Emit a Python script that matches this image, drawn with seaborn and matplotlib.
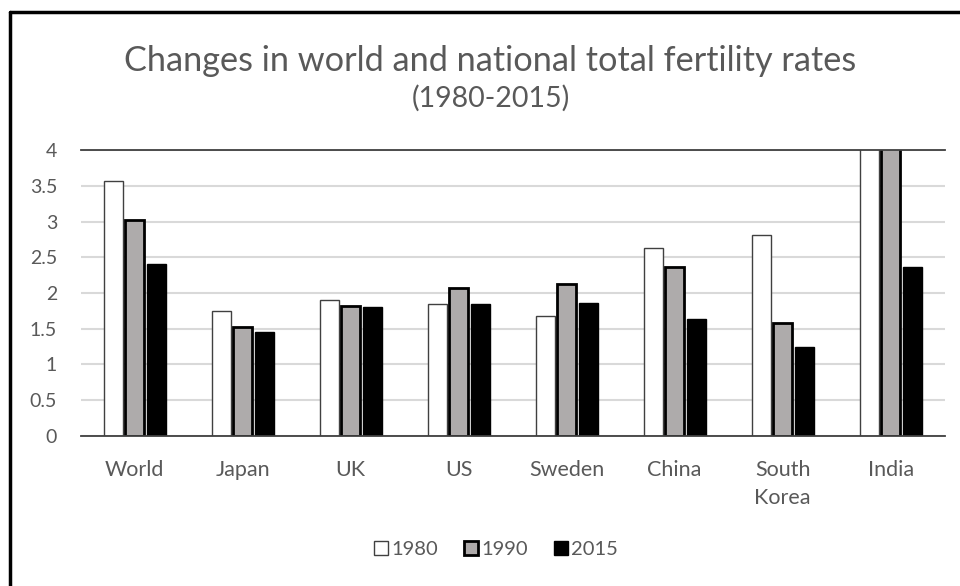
import pandas as pd
import matplotlib.pyplot as plt
import seaborn as sns
from matplotlib.lines import Line2D

# Values (India 1980/1990 run past the 4 limit)
countries = ['World', 'Japan', 'UK', 'US', 'Sweden', 'China', 'South\nKorea', 'India']
years = ['1980', '1990', '2015']
tfr_1980 = [3.57, 1.75, 1.90, 1.84, 1.68, 2.63, 2.81, 4.97]
tfr_1990 = [3.02, 1.53, 1.82, 2.07, 2.12, 2.36, 1.58, 4.05]
tfr_2015 = [2.41, 1.45, 1.80, 1.84, 1.86, 1.63, 1.25, 2.36]

bar_colors = ['#ffffff', '#aeaaaa', '#000000']
edge_colors = ['#404040', 'black', 'black']
edge_widths = [1.0, 2.0, 1.0]
text_gray = '#595959'

rows = []
for year, vals in zip(years, [tfr_1980, tfr_1990, tfr_2015]):
    for c, v in zip(countries, vals):
        rows.append({'country': c, 'year': year, 'tfr': v})
df = pd.DataFrame(rows)

sns.set_style('white')
plt.rcParams['font.family'] = ['Lato', 'DejaVu Sans']

fig = plt.figure(figsize=(9.6, 5.86), dpi=100)
ax = fig.add_axes([0.084, 0.256, 0.9, 0.488])

sns.barplot(data=df, x='country', y='tfr', hue='year', hue_order=years,
            palette=bar_colors, width=0.6, gap=0.12, edgecolor='black',
            ax=ax, legend=False)

for cont, lw, col in zip(ax.containers, edge_widths, edge_colors):
    for bar in cont:
        bar.set_linewidth(lw)
        bar.set_edgecolor(col)

ax.set_ylim(0, 4)
ax.set_xlim(-0.5, len(countries) - 0.5)
ax.set_yticks([0, 0.5, 1, 1.5, 2, 2.5, 3, 3.5, 4])
ax.set_yticklabels(['0', '0.5', '1', '1.5', '2', '2.5', '3', '3.5', '4'])
ax.yaxis.grid(True, color='#d9d9d9', linewidth=1.5)
ax.set_axisbelow(True)
ax.tick_params(axis='both', length=0, colors=text_gray)
ax.tick_params(axis='y', pad=17, labelsize=14)
ax.tick_params(axis='x', pad=17, labelsize=15.5)
for lbl in ax.get_xticklabels():
    lbl.set_linespacing(1.55)
ax.set_xlabel('')
ax.set_ylabel('')

for side in ['left', 'right']:
    ax.spines[side].set_visible(False)
for side in ['top', 'bottom']:
    ax.spines[side].set_visible(True)
    ax.spines[side].set_color('#404040')
    ax.spines[side].set_linewidth(1.3)

handles = [plt.Rectangle((0, 0), 1, 1, facecolor=c, edgecolor=e, linewidth=lw)
           for c, e, lw in zip(bar_colors, edge_colors, edge_widths)]
fig.legend(handles, years, loc='center', bbox_to_anchor=(0.517, 0.062), ncol=3,
           frameon=False, handlelength=0.7, handleheight=0.7, handletextpad=0.15,
           columnspacing=1.3, labelcolor=text_gray, fontsize=14.5)

fig.text(0.511, 0.896, 'Changes in world and national total fertility rates',
         ha='center', va='center', fontsize=24.7, color=text_gray)
fig.text(0.511, 0.832, '(1980-2015)', ha='center', va='center', fontsize=20.5, color=text_gray)

# black frame on top and left edges of the picture
fig.add_artist(Line2D([10 / 960, 1], [1 - 12 / 586, 1 - 12 / 586], color='black', linewidth=2.5))
fig.add_artist(Line2D([10 / 960, 10 / 960], [0, 1 - 12 / 586], color='black', linewidth=2.5))

fig.savefig('out.png', dpi=100)
